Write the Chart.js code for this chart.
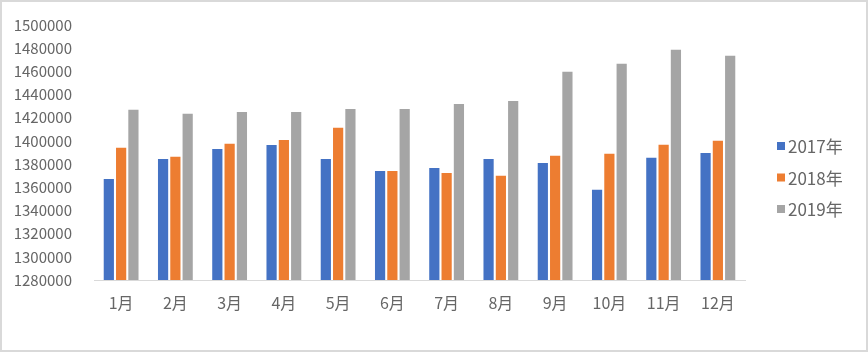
<!DOCTYPE html>
<html lang="zh-CN">
<head>
	<meta charset="utf-8">
	<title>2017-2019 月度对比</title>
	<script src="https://cdn.jsdelivr.net/npm/chart.js@4/dist/chart.umd.min.js"></script>
	<style>
		html, body { margin: 0; padding: 0; background: #fff; }
		.wrapper { width: 868px; height: 352px; }
	</style>
</head>
<body>
	<div class="wrapper">
		<canvas id="chart-0" width="868" height="352"></canvas>
	</div>

	<script>
		var months = ['1月', '2月', '3月', '4月', '5月', '6月', '7月', '8月', '9月', '10月', '11月', '12月'];
		var seriesNames = ['2017年', '2018年', '2019年'];
		var values2017 = [1367100, 1384400, 1393000, 1396500, 1384400, 1374000, 1376600, 1384400, 1380900, 1357900, 1385500, 1389600];
		var values2018 = [1394100, 1386400, 1397600, 1400800, 1411400, 1374000, 1372300, 1370000, 1387200, 1389000, 1396700, 1400200];
		var values2019 = [1426900, 1423500, 1424900, 1424900, 1427500, 1427500, 1431800, 1434400, 1459700, 1466600, 1478700, 1473500];
		var yMin = 1280000, yMax = 1500000, yStep = 20000;

		var colors = ['#4472C4', '#ED7D31', '#A5A5A5'];
		var fontFamily = '"Noto Sans CJK SC", "Noto Sans", sans-serif';
		var textColor = '#666666';

		// legend and frame drawn by hand so they sit where the original has them
		var sideLegend = {
			id: 'sideLegend',
			beforeDraw: function (chart) {
				var ctx = chart.ctx;
				ctx.save();
				ctx.fillStyle = '#ffffff';
				ctx.fillRect(0, 0, chart.width, chart.height);
				ctx.restore();
			},
			afterDraw: function (chart) {
				var ctx = chart.ctx;
				ctx.save();
				ctx.strokeStyle = '#d9d9d9';
				ctx.lineWidth = 2;
				ctx.strokeRect(1, 1, chart.width - 2, chart.height - 2);

				ctx.font = '17px ' + fontFamily;
				ctx.textBaseline = 'middle';
				ctx.textAlign = 'left';
				chart.data.datasets.forEach(function (ds, i) {
					var y = 146 + i * 31.5;
					ctx.fillStyle = ds.backgroundColor;
					ctx.fillRect(777, y - 4, 8, 8);
					ctx.fillStyle = textColor;
					ctx.fillText(ds.label, 788, y + 1);
				});
				ctx.restore();
			}
		};

		var data = {
			labels: months,
			datasets: [
				{ label: seriesNames[0], data: values2017, backgroundColor: colors[0] },
				{ label: seriesNames[1], data: values2018, backgroundColor: colors[1] },
				{ label: seriesNames[2], data: values2019, backgroundColor: colors[2] }
			]
		};

		var chart = new Chart('chart-0', {
			type: 'bar',
			data: data,
			options: {
				responsive: false,
				animation: false,
				layout: { padding: { top: 25, right: 123, bottom: 0, left: 0 } },
				datasets: {
					bar: { categoryPercentage: 0.68, barPercentage: 0.83 }
				},
				plugins: {
					legend: { display: false },
					tooltip: { enabled: false }
				},
				scales: {
					x: {
						grid: { display: false },
						border: { display: true, color: '#d9d9d9', width: 1 },
						ticks: {
							color: textColor,
							font: { family: fontFamily, size: 16 },
							padding: 5,
							maxRotation: 0
						},
						afterFit: function (scale) { scale.height = 72; }
					},
					y: {
						min: yMin,
						max: yMax,
						grid: { display: false },
						border: { display: false },
						ticks: {
							stepSize: yStep,
							color: textColor,
							font: { family: fontFamily, size: 15 },
							padding: 14,
							callback: function (v) { return String(v); }
						},
						afterFit: function (scale) { scale.width = 94; }
					}
				}
			},
			plugins: [sideLegend]
		});
	</script>
</body>
</html>
